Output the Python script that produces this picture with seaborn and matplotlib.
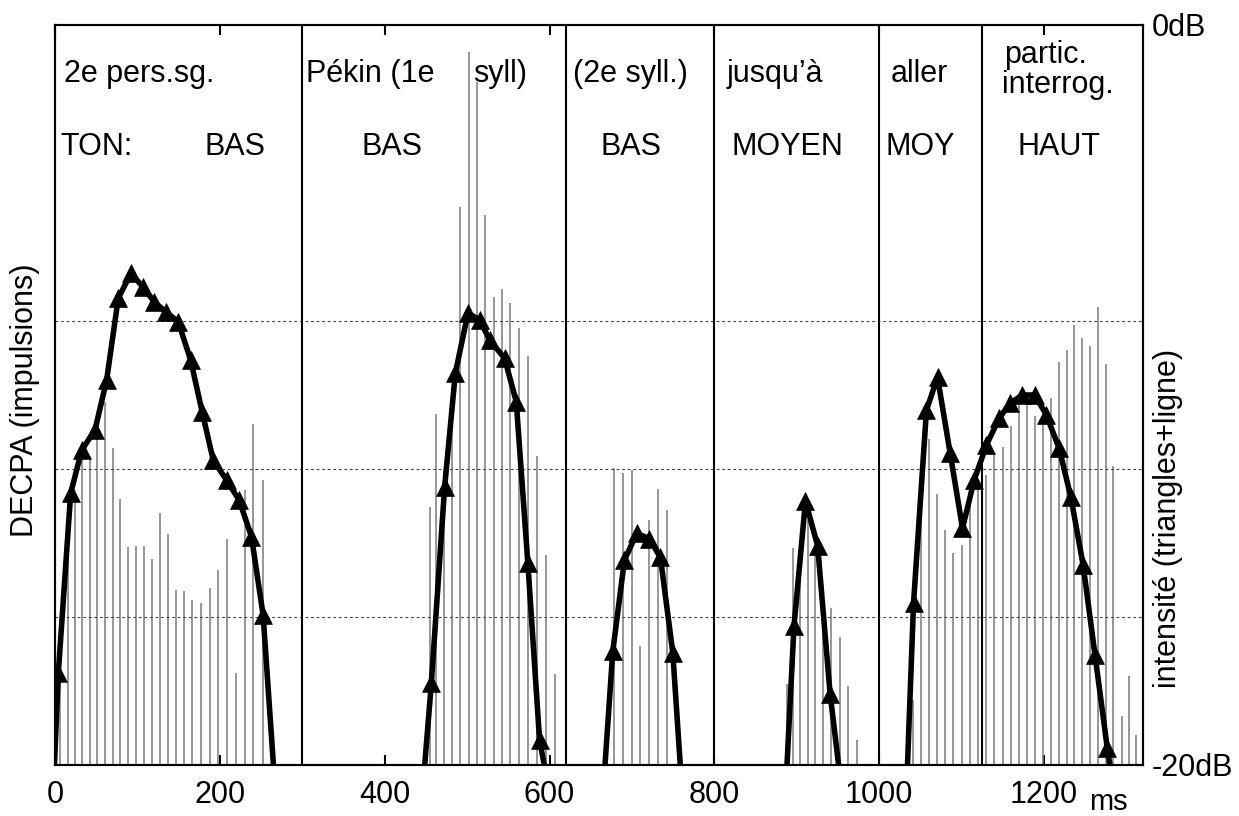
import numpy as np
import pandas as pd
import matplotlib
matplotlib.use("Agg")
import matplotlib.pyplot as plt
import seaborn as sns

# --- intensité (dB) : une courbe par syllabe, le premier et le dernier point sortent du cadre
seg1_ms = [-2.6, 4.0, 19.0, 32.4, 48.5, 62.7, 76.7, 92.1, 106.3, 120.4, 134.2, 149.5,
           164.5, 178.5, 191.9, 208.1, 223.4, 238.4, 252.5, 268.1]
seg1_db = [-21.0, -17.52, -12.66, -11.49, -10.95, -9.59, -7.39, -6.71, -7.07, -7.48, -7.75,
           -8.02, -9.05, -10.45, -11.76, -12.3, -12.84, -13.83, -15.95, -21.0]
seg2_ms = [444.9, 456.6, 472.7, 485.7, 501.0, 515.2, 527.3, 545.5, 559.6, 573.7, 587.9, 602.0]
seg2_db = [-21.0, -17.79, -12.49, -9.41, -7.79, -7.97, -8.51, -9.01, -10.18, -14.55, -19.32, -21.0]
seg3_ms = [664.2, 676.7, 690.9, 705.8, 720.8, 734.5, 749.5, 761.6]
seg3_db = [-21.0, -16.93, -14.46, -13.74, -13.88, -14.39, -16.96, -21.0]
seg4_ms = [885.8, 896.6, 910.5, 925.2, 940.4, 956.1]
seg4_db = [-21.0, -16.24, -12.87, -14.07, -18.08, -21.0]
seg5_ms = [1032.6, 1041.6, 1057.3, 1070.7, 1086.1, 1101.0, 1115.2, 1130.1, 1145.5, 1158.8,
           1173.7, 1188.7, 1202.8, 1218.2, 1232.4, 1247.3, 1261.8, 1276.7, 1287.0]
seg5_db = [-21.0, -15.63, -10.41, -9.52, -11.58, -13.60, -12.30, -11.35, -10.63, -10.22,
           -10.0, -10.0, -10.54, -11.44, -12.75, -14.59, -17.03, -19.55, -21.0]

# --- impulsions DECPA (hauteur en % de l'axe)
imp_ms = [6.1, 15.4, 24.2, 33.1, 42.1, 51.3, 60.6, 69.9, 78.8, 88.1, 98.2, 107.5, 117.2,
          127.3, 137.3, 146.3, 156.7, 166.4, 176.6, 187.9, 197.9, 208.8, 219.8, 230.3,
          240.8, 252.5,
          454.5, 462.7, 471.9, 481.6, 491.8, 501.8, 511.9, 521.6, 532.1, 542.2, 552.4,
          562.8, 573.3, 584.6, 595.2, 606.1,
          678.8, 688.8, 699.8, 709.9, 721.2, 732.1, 742.7,
          888.5, 894.9, 903.9, 913.1, 922.4, 932.1, 941.8, 951.9, 962.7, 973.6,
          1040.8, 1050.5, 1059.8, 1069.5, 1079.6, 1089.7, 1100.2, 1110.3, 1120.0, 1130.1,
          1139.4, 1150.0, 1159.6, 1169.3, 1179.0, 1188.7, 1198.4, 1208.1, 1217.8, 1227.5,
          1236.7, 1246.4, 1255.4, 1265.1, 1274.8, 1283.6, 1294.2, 1302.7, 1311.9]
imp_h = [11.5, 35.8, 36.0, 41.7, 41.7, 44.4, 49.1, 42.8, 36.0, 29.4, 29.6, 29.6, 27.9,
         34.1, 31.2, 23.7, 23.5, 22.3, 21.9, 23.9, 26.3, 30.6, 12.5, 37.1, 46.1, 38.5,
         34.8, 47.4, 39.9, 46.6, 75.4, 96.3, 92.3, 74.3, 63.2, 64.3, 62.4, 59.1, 55.3,
         41.7, 28.4, 12.3,
         40.2, 39.5, 39.9, 16.1, 33.1, 37.3, 34.5,
         10.9, 29.3, 25.0, 33.1, 29.1, 24.3, 21.2, 17.3, 10.7, 3.4,
         8.8, 39.9, 44.1, 36.6, 31.7, 28.7, 29.7, 37.2, 38.5, 39.2, 42.1, 43.0, 45.8,
         48.6, 48.9, 47.1, 46.4, 49.6, 54.5, 56.1, 59.5, 57.7, 56.6, 61.9, 54.2, 40.4,
         6.6, 12.0, 4.1]

# --- segmentation et étiquettes
boundaries = [300, 620, 800, 1000, 1125]
grid_db = [-8, -12, -16]
x_ticks = [0, 200, 400, 600, 800, 1000, 1200]
labels = [  # (texte, ms, dB)
    ("2e pers.sg.", 10.9, -1.54), ("TON:", 6.1, -3.51), ("BAS", 181.8, -3.51),
    ("Pékin (1e", 305.0, -1.54), ("syll)", 507.0, -1.54), ("BAS", 371.8, -3.51),
    ("(2e syll.)", 628.2, -1.54), ("BAS", 661.8, -3.51),
    ("jusqu\u2019\u00e0", 814.5, -1.54), ("MOYEN", 820.6, -3.51),
    ("aller", 1014.2, -1.54), ("MOY", 1008.1, -3.51),
    ("partic.", 1152.0, -1.03), ("interrog.", 1149.0, -1.84), ("HAUT", 1167.6, -3.51),
]

segs = [(seg1_ms, seg1_db), (seg2_ms, seg2_db), (seg3_ms, seg3_db),
        (seg4_ms, seg4_db), (seg5_ms, seg5_db)]
rows = []
for i, (xs, ys) in enumerate(segs):
    for j, (x, y) in enumerate(zip(xs, ys)):
        rows.append({"ms": x, "dB": y, "seg": i, "mark": 0 < j < len(xs) - 1})
curve = pd.DataFrame(rows)

sns.set_style("white")
plt.rcParams["font.family"] = ["Liberation Sans", "DejaVu Sans"]
plt.rcParams["text.color"] = "black"
plt.rcParams["xtick.color"] = "black"
plt.rcParams["ytick.color"] = "black"
plt.rcParams["axes.labelcolor"] = "black"

fig = plt.figure(figsize=(12.39, 8.16), dpi=100)
ax = fig.add_axes([55 / 1239, 51 / 816, 1088 / 1239, 740 / 816])
ax2 = ax.twinx()

ax.vlines(imp_ms, 0, imp_h, colors="#7a7a7a", linewidth=1.1)
ax.set_ylim(0, 100)
ax.set_yticks([])
ax.set_xlim(0, 1320)
ax.set_xticks(x_ticks)
ax.tick_params(axis="x", direction="in", top=True, bottom=True, length=7, width=1.5,
               labelsize=22, pad=11, colors="black")

ax2.set_ylim(-20, 0)
ax2.set_yticks([-20, 0])
ax2.set_yticklabels(["-20dB", "0dB"])
ax2.tick_params(axis="y", length=0, labelsize=22, pad=6.5, colors="black")

for y in grid_db:
    ax2.axhline(y, color="#444444", lw=0.8, linestyle=(0, (2.5, 2.5)), zorder=1)
for x in boundaries:
    ax2.axvline(x, color="black", lw=1.5, zorder=2)

sns.lineplot(data=curve, x="ms", y="dB", units="seg", estimator=None, sort=False,
             color="black", linewidth=4.0, ax=ax2, legend=False, zorder=4)
sns.scatterplot(data=curve[curve["mark"]], x="ms", y="dB", marker="^", s=165,
                color="black", edgecolor="black", linewidth=0.5, ax=ax2,
                legend=False, zorder=5)
ax2.set_xlabel("")
ax2.set_ylabel("")
ax.set_xlabel("")

for txt, x, y in labels:
    ax2.text(x, y, txt, fontsize=22, ha="left", va="baseline", color="black")

ax2.text(1254.5, -21.22, "ms", fontsize=21, ha="left", va="baseline", clip_on=False)
fig.text(25 / 1239, 1 - 400 / 816, "DECPA (impulsions)", rotation=90, fontsize=22,
         ha="center", va="center")
fig.text(1168 / 1239, 1 - 518 / 816, "intensité (triangles+ligne)", rotation=90,
         fontsize=22, ha="center", va="center")

for a in (ax, ax2):
    for sp in a.spines.values():
        sp.set_linewidth(1.5)
        sp.set_color("black")

fig.savefig("out.png", dpi=100)
